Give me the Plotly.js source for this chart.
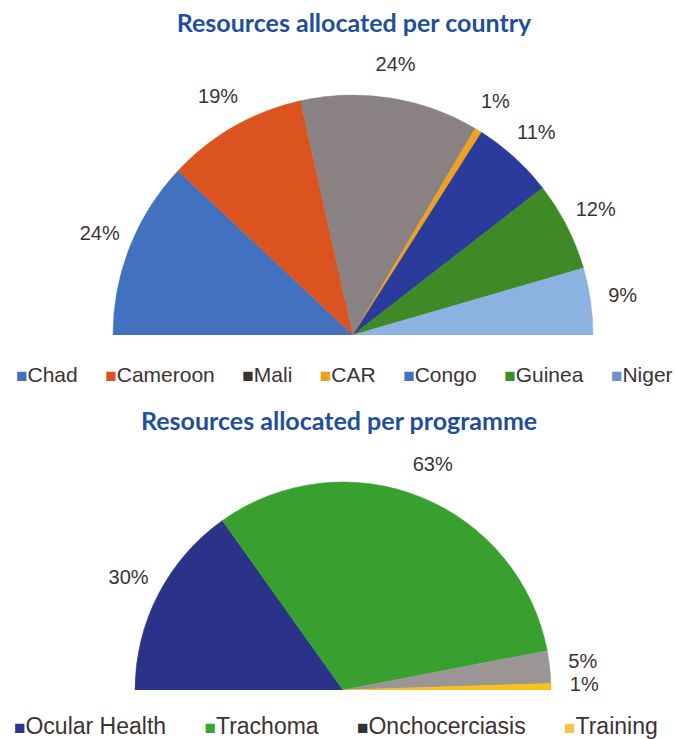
<!DOCTYPE html>
<html>
<head>
<meta charset="utf-8">
<script src="https://cdn.plot.ly/plotly-3.0.1.min.js"></script>
<style>
  html, body { margin: 0; padding: 0; background: #ffffff; overflow: hidden; }
  #chart { width: 677px; height: 739px; }
</style>
</head>
<body>
<div id="chart"></div>
<script>
// ---- data ----
const countryTitle = 'Resources allocated per country';
const countries = ['Chad', 'Cameroon', 'Mali', 'CAR', 'Congo', 'Guinea', 'Niger'];
const countryShares = [24, 19, 24, 1, 11, 12, 9];

const programmeTitle = 'Resources allocated per programme';
const programmes = ['Ocular Health', 'Trachoma', 'Onchocerciasis', 'Training'];
const programmeShares = [30, 63, 5, 1];

// ---- styles ----
const countrySliceColors = ['#4271bf', '#db5420', '#8a8282', '#f0a21e', '#2b3b9c', '#3f8a26', '#8cb2e2'];
const countryLegendColors = ['#4271bf', '#db5420', '#3a3131', '#eaa01e', '#4470c0', '#3f8f28', '#6f90d2'];
const programmeSliceColors = ['#2b3389', '#37a02e', '#9b9595', '#f8c21c'];
const programmeLegendColors = ['#2e3590', '#3aa534', '#333030', '#f5c542'];

const titleColor = '#1f4e9b';
const textColor = '#3b3333';
const labelFont = {family: 'Liberation Sans, Arial, sans-serif', size: 20, color: textColor};

const RMAX = 1.3; // radial axis range so that outside labels fit inside the subplot

// Build half-pie angular positions from the values (180 degrees = whole)
function halfPie(values) {
  const total = values.reduce((a, b) => a + b, 0);
  let cum = 0;
  const widths = values.map(v => v / total * 180);
  const thetas = widths.map(w => { const t = cum + w / 2; cum += w; return t; });
  return {widths, thetas};
}

function pieTraces(values, colors, subplot, labelR) {
  const hp = halfPie(values);
  return [
    {
      type: 'barpolar', subplot: subplot,
      r: values.map(() => 1), theta: hp.thetas, width: hp.widths,
      marker: {color: colors, line: {color: colors, width: 0.5}},
      hoverinfo: 'skip', showlegend: false
    },
    {
      type: 'scatterpolar', subplot: subplot, mode: 'text',
      r: values.map(() => labelR), theta: hp.thetas,
      text: values.map(v => v + '%'),
      textposition: 'middle center', textfont: labelFont,
      cliponaxis: false, hoverinfo: 'skip', showlegend: false
    }
  ];
}

function legendText(names, colors, gap, markerSize) {
  return names.map((n, i) =>
    '<span style="color:' + colors[i] + ';font-size:' + markerSize + 'px">\u25A0</span>' + n
  ).join(gap);
}

const W = 677, H = 739;
// pixel geometry of the two half pies (centre x, centre y from top, radius of slices)
const topPie = {cx: 353, cy: 335, r: 240};
const botPie = {cx: 343, cy: 690, r: 208};
function polarDomain(p) {
  const R = p.r * RMAX;
  return {
    x: [(p.cx - R) / W, (p.cx + R) / W],
    y: [(H - p.cy) / H, (H - p.cy + R) / H]
  };
}
function polarLayout(p) {
  return {
    domain: polarDomain(p),
    sector: [0, 180],
    hole: 0,
    bgcolor: 'rgba(0,0,0,0)',
    radialaxis: {visible: false, range: [0, RMAX]},
    angularaxis: {visible: false, rotation: 180, direction: 'clockwise'}
  };
}

const data = [].concat(
  pieTraces(countryShares, countrySliceColors, 'polar', 1.135),
  pieTraces(programmeShares, programmeSliceColors, 'polar2', 1.16)
);

const titleFont = {family: 'Lato, Open Sans, sans-serif', size: 25, color: titleColor, weight: 'bold'};
const legendFontTop = {family: 'Liberation Sans, Arial, sans-serif', size: 21, color: textColor};
const legendFontBottom = {family: 'Liberation Sans, Arial, sans-serif', size: 23, color: textColor};

const layout = {
  width: W, height: H,
  margin: {l: 0, r: 0, t: 0, b: 0},
  paper_bgcolor: '#ffffff',
  showlegend: false,
  title: {
    text: '<b>' + countryTitle + '</b>',
    font: titleFont,
    x: 354 / W, xanchor: 'center', xref: 'paper',
    y: 1 - 23 / H, yanchor: 'middle', yref: 'container'
  },
  polar: polarLayout(topPie),
  polar2: polarLayout(botPie),
  annotations: [
    {
      text: '<b>' + programmeTitle + '</b>', font: titleFont,
      x: 339 / W, y: 1 - 420 / H, xref: 'paper', yref: 'paper',
      xanchor: 'center', yanchor: 'middle', showarrow: false
    },
    {
      text: legendText(countries, countryLegendColors, '\u00A0\u00A0\u00A0\u00A0\u2009', 19),
      font: legendFontTop,
      x: 344 / W, y: 1 - 374 / H, xref: 'paper', yref: 'paper',
      xanchor: 'center', yanchor: 'middle', showarrow: false
    },
    {
      text: legendText(programmes, programmeLegendColors, '\u00A0\u00A0\u00A0\u00A0\u00A0\u00A0', 19),
      font: legendFontBottom,
      x: 336 / W, y: 1 - 726 / H, xref: 'paper', yref: 'paper',
      xanchor: 'center', yanchor: 'middle', showarrow: false
    }
  ]
};

Plotly.newPlot('chart', data, layout, {displayModeBar: false, staticPlot: true});
</script>
</body>
</html>
